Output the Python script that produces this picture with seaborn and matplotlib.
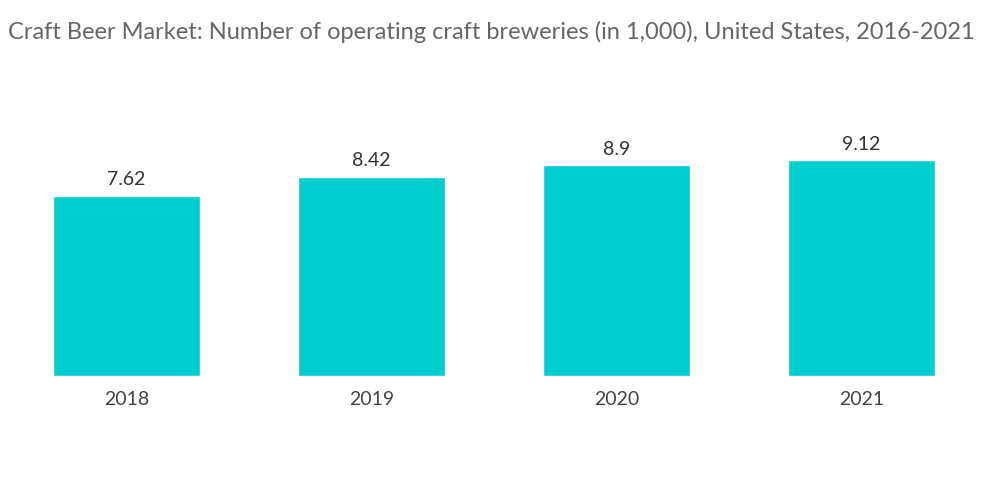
import matplotlib
matplotlib.use('Agg')
import matplotlib.pyplot as plt
import seaborn as sns
import pandas as pd

years = ['2018', '2019', '2020', '2021']
breweries = [7.62, 8.42, 8.9, 9.12]
value_labels = ['7.62', '8.42', '8.9', '9.12']

sns.set_style('white')
plt.rcParams['font.family'] = ['Lato', 'DejaVu Sans']

df = pd.DataFrame({'year': years, 'breweries': breweries})

fig = plt.figure(figsize=(10, 5.04), dpi=100)
ax = fig.add_axes([0.004, 0.254, 0.98, 0.508])
sns.barplot(data=df, x='year', y='breweries', color='#00CED1', width=0.6,
            saturation=1, ax=ax)

for i, (v, lab) in enumerate(zip(breweries, value_labels)):
    ax.text(i, v + 0.3, lab, ha='center', va='bottom', fontsize=14, color='#333333')

ax.set_xlim(-0.5, 3.5)
ax.set_ylim(0, 10.81)
ax.set_xlabel('')
ax.set_ylabel('')
ax.set_yticks([])
ax.tick_params(axis='x', length=0, labelsize=14, labelcolor='#444444', pad=11)
sns.despine(ax=ax, left=True, top=True, right=True, bottom=True)

fig.text(0.008, 0.936,
         'Craft Beer Market: Number of operating craft breweries (in 1,000), United States, 2016-2021',
         fontsize=17, color='#666666', ha='left', va='center')

fig.savefig('out.png', dpi=100)
